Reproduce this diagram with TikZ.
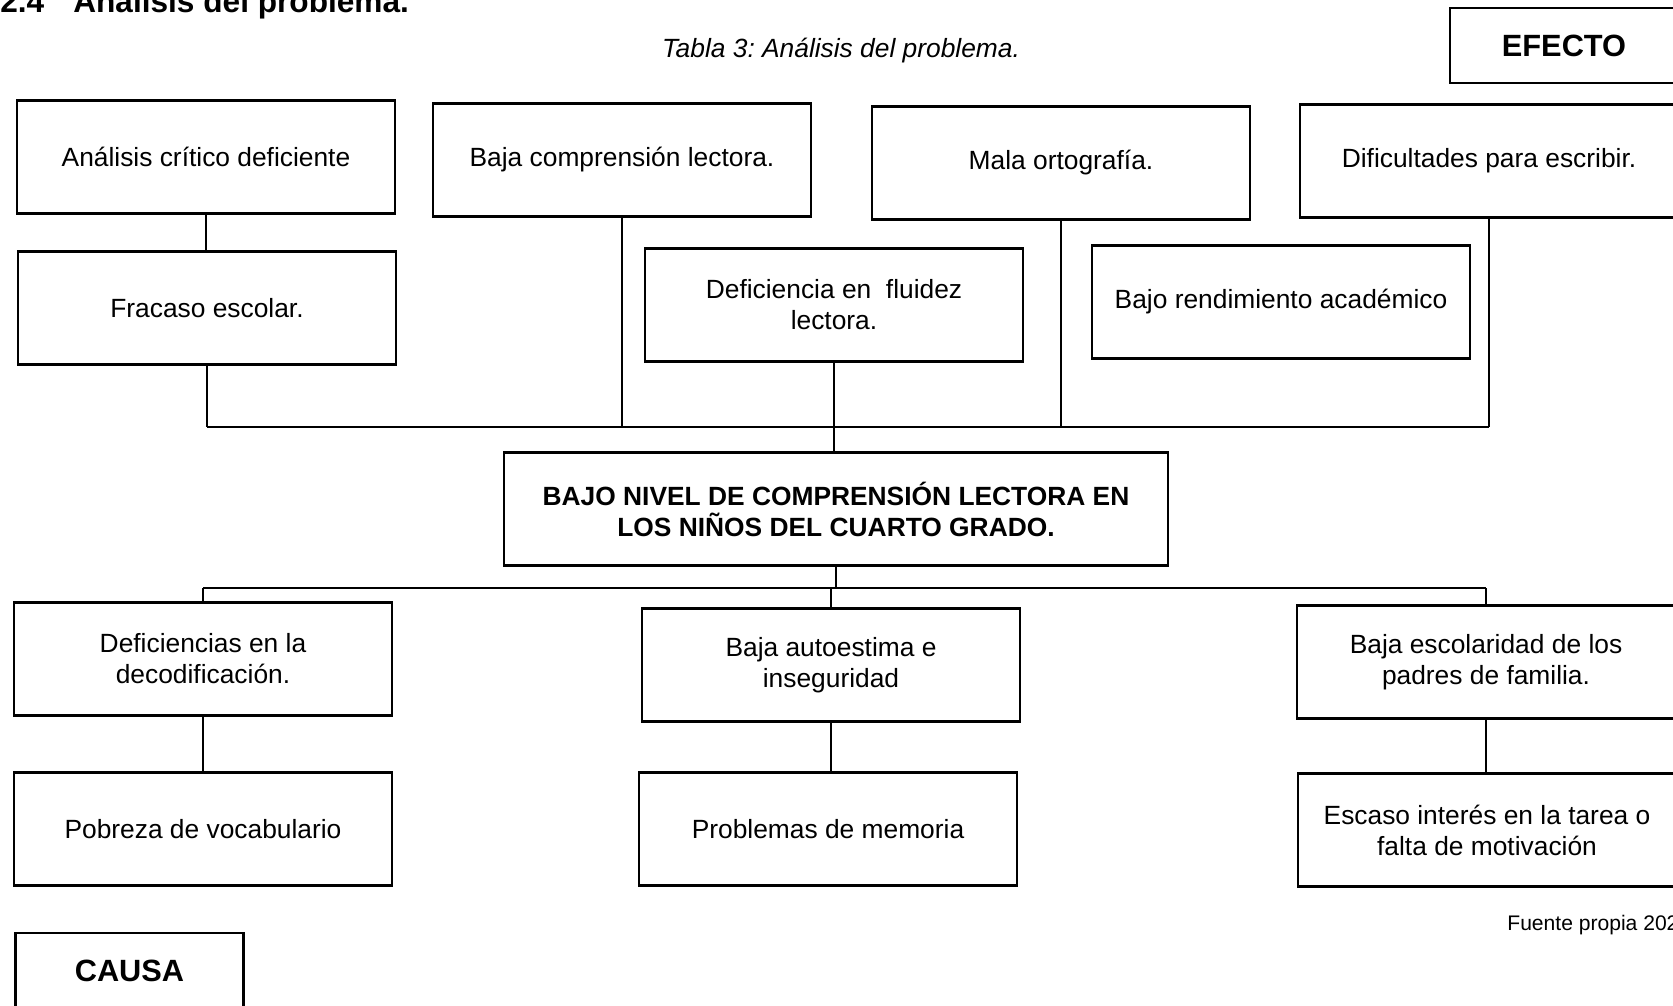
\documentclass[tikz,border=0pt]{standalone}
\usepackage{fontspec}
\setmainfont{Liberation Sans}
\usetikzlibrary{calc,positioning}
\frenchspacing

\begin{document}
\begin{tikzpicture}[x=0.02cm,y=-0.02cm,
  caja/.style={draw,line width=1.3pt,minimum width=7.56cm,minimum height=2.26cm,inner sep=0pt,align=center,font=\fontsize{15}{17.6}\selectfont},
  etiqueta/.style={draw,line width=1.3pt,minimum width=4.56cm,minimum height=1.5cm,inner sep=0pt,font=\fontsize{17.5}{20}\selectfont\bfseries},
  linea/.style={line width=1.3pt}]
\useasboundingbox (0,0) rectangle (1673,1006);
\coordinate (arr) at (0,427);
\coordinate (aba) at (0,588);
% titulos
\node[anchor=base west,inner sep=0pt,font=\fontsize{18}{20}\selectfont\bfseries] (tit) at (0,12.5) {2.4\hspace{16.5pt}Análisis del problema.};
\node[anchor=base,inner sep=0pt,font=\fontsize{15}{17}\selectfont\itshape] (tab) at (841,58) {Tabla 3: Análisis del problema.};
\node[etiqueta] (efe) at (1564,45.5) {EFECTO};
\node[etiqueta] (cau) at (129.5,970.5) {CAUSA};
\node[anchor=base west,inner sep=0pt,font=\fontsize{12}{14}\selectfont] (fue) at (1507,930) {Fuente propia 202};
% efectos
\node[caja] (ana) at (206,157) {Análisis crítico deficiente};
\node[caja] (baj) at (622,160) {Baja comprensión lectora.};
\node[caja] (mal) at (1061,163) {Mala ortografía.};
\node[caja] (dif) at (1489,161) {Dificultades para escribir.};
\node[caja] (fra) at (207,308) {Fracaso escolar.};
\node[caja] (flu) at (834,305) {Deficiencia en\ \ fluidez\\lectora.};
\node[caja] (ren) at (1281,302) {Bajo rendimiento académico};
% problema
\node[caja,minimum width=13.28cm,font=\fontsize{15}{17.6}\selectfont\bfseries] (pro) at (836,509) {BAJO NIVEL DE COMPRENSIÓN LECTORA EN\\LOS NIÑOS DEL CUARTO GRADO.};
% causas
\node[caja] (dec) at (203,659) {Deficiencias en la\\decodificación.};
\node[caja] (aut) at (831,665) {Baja autoestima e\\inseguridad};
\node[caja] (esc) at (1486,662) {Baja escolaridad de los\\padres de familia.};
\node[caja] (voc) at (203,829) {Pobreza de vocabulario};
\node[caja] (mem) at (828,829) {Problemas de memoria};
\node[caja] (mot) at (1487,830) {Escaso interés en la tarea o\\falta de motivación};
% lineas de arriba
\draw[linea] (ana.south) -- (ana.south |- fra.north);
\draw[linea] (fra.south) -- (fra.south |- arr);
\draw[linea] (baj.south) -- (baj.south |- arr);
\draw[linea] (mal.south) -- (mal.south |- arr);
\draw[linea] (dif.south) -- (dif.south |- arr);
\draw[linea] (fra.south |- arr) -- (dif.south |- arr);
\draw[linea] (flu.south) -- (flu.south |- pro.north);
% lineas de abajo
\draw[linea] (pro.south) -- (pro.south |- aba);
\draw[linea] (dec.north |- aba) -- (esc.north |- aba);
\draw[linea] (dec.north |- aba) -- (dec.north);
\draw[linea] (aut.north |- aba) -- (aut.north);
\draw[linea] (esc.north |- aba) -- (esc.north);
\draw[linea] (dec.south) -- (dec.south |- voc.north);
\draw[linea] (aut.south) -- (aut.south |- mem.north);
\draw[linea] (esc.south) -- (esc.south |- mot.north);
\end{tikzpicture}
\end{document}
